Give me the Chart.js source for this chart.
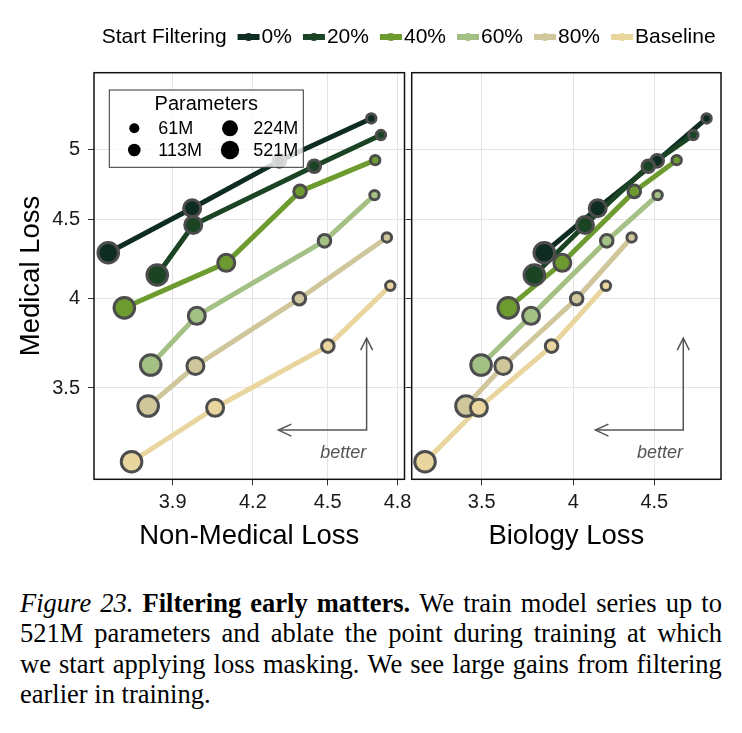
<!DOCTYPE html>
<html><head><meta charset="utf-8">
<script src="https://cdn.jsdelivr.net/npm/chart.js@4.4.1/dist/chart.umd.min.js"></script>
<style>
html,body{margin:0;padding:0;background:#fff;}
#wrap{position:relative;width:742px;height:733px;overflow:hidden;background:#fff;}
canvas{position:absolute;left:0;top:0;}
#cap{position:absolute;left:20px;top:588px;width:702px;font-family:"Liberation Serif","Times New Roman",serif;font-size:26.5px;color:#000;}
.ln{display:flex;justify-content:space-between;height:30.4px;line-height:30.4px;white-space:nowrap;}
.ln2{height:30.4px;line-height:30.4px;white-space:nowrap;}
</style></head>
<body>
<div id="wrap">
<canvas id="left" width="742" height="560"></canvas>
<canvas id="right" width="742" height="560"></canvas>
<div id="cap">
<div class="ln"><i>Figure</i><i>23.</i><b>Filtering</b><b>early</b><b>matters.</b><span>We</span><span>train</span><span>model</span><span>series</span><span>up</span><span>to</span></div>
<div class="ln"><span>521M</span><span>parameters</span><span>and</span><span>ablate</span><span>the</span><span>point</span><span>during</span><span>training</span><span>at</span><span>which</span></div>
<div class="ln"><span>we</span><span>start</span><span>applying</span><span>loss</span><span>masking.</span><span>We</span><span>see</span><span>large</span><span>gains</span><span>from</span><span>filtering</span></div>
<div class="ln2">earlier in training.</div>
</div>
</div>
<script>
// ---- data (model sizes: 61M, 113M, 224M, 521M) ----
const params = ['61M', '113M', '224M', '521M'];
const seriesNames = ['0%', '20%', '40%', '60%', '80%', 'Baseline'];

const medical0 = [5.234, 4.913, 4.577, 4.283];
const medical20 = [5.106, 4.874, 4.464, 4.143];
const medical40 = [4.918, 4.694, 4.219, 3.945];
const medical60 = [4.668, 4.360, 3.898, 3.622];
const medical80 = [4.382, 3.999, 3.617, 3.407];
const medicalBase = [4.077, 3.726, 3.398, 3.135];

const nonMedical0 = [4.685, 4.304, 3.971, 3.675];
const nonMedical20 = [4.727, 4.445, 3.975, 3.845];
const nonMedical40 = [4.702, 4.387, 4.098, 3.730];
const nonMedical60 = [4.699, 4.487, 3.988, 3.822];
const nonMedical80 = [4.753, 4.384, 3.983, 3.813];
const nonMedicalBase = [4.768, 4.501, 4.056, 3.755];

const biology0 = [4.856, 4.519, 4.144, 3.834];
const biology20 = [4.763, 4.461, 4.068, 3.779];
const biology40 = [4.649, 4.371, 3.936, 3.638];
const biology60 = [4.522, 4.199, 3.761, 3.497];
const biology80 = [4.354, 4.019, 3.612, 3.421];
const biologyBase = [4.194, 3.875, 3.486, 3.223];

const yTicksMedical = [3.5, 4, 4.5, 5];
const xTicksNonMedical = [3.9, 4.2, 4.5, 4.8];
const xTicksBiology = [3.5, 4, 4.5];

// ---- styling ----
const FONT = '"Liberation Sans", Arial, Helvetica, sans-serif';
const colors = ['#0e2c22', '#1b4425', '#6e9b2f', '#a4c185', '#cfc79b', '#e9d69e'];
const pointR = [4.7, 6.3, 8.5, 10.3];
const legendR = [5, 6.3, 8, 9.2];

const medical = [medical0, medical20, medical40, medical60, medical80, medicalBase];
const nonMedical = [nonMedical0, nonMedical20, nonMedical40, nonMedical60, nonMedical80, nonMedicalBase];
const biology = [biology0, biology20, biology40, biology60, biology80, biologyBase];

function makeDatasets(xs) {
  const ds = [];
  seriesNames.forEach((name, i) => {
    const pts = xs[i].map((x, j) => ({x: x, y: medical[i][j]}));
    ds.push({label: name, data: pts, showLine: true, borderColor: colors[i], backgroundColor: colors[i],
      borderWidth: 5, pointRadius: 0, borderJoinStyle: 'round', order: 100 + (5 - i), clip: false});
    ds.push({label: name + ' points', data: pts, showLine: false, backgroundColor: colors[i],
      pointBackgroundColor: colors[i], pointBorderColor: '#4d4d4d', pointBorderWidth: 3,
      pointRadius: pointR, order: 5 - i, clip: false});
  });
  return ds;
}

const panelPlugin = {
  id: 'panel',
  afterDatasetsDraw(chart, args, opts) {
    const ctx = chart.ctx, a = chart.chartArea;
    const w = a.right - a.left, h = a.bottom - a.top;
    ctx.save();
    // "better" annotation
    const vx = a.left + 0.878 * w, tipX = a.left + 0.594 * w;
    const topY = a.top + 0.653 * h, cy = a.top + 0.879 * h;
    ctx.strokeStyle = '#555'; ctx.lineWidth = 1.5; ctx.lineJoin = 'miter';
    ctx.beginPath(); ctx.moveTo(vx, topY); ctx.lineTo(vx, cy); ctx.lineTo(tipX, cy); ctx.stroke();
    ctx.beginPath(); ctx.moveTo(vx - 6, topY + 12); ctx.lineTo(vx, topY); ctx.lineTo(vx + 6, topY + 12); ctx.stroke();
    ctx.beginPath(); ctx.moveTo(tipX + 13, cy - 6); ctx.lineTo(tipX, cy); ctx.lineTo(tipX + 13, cy + 6); ctx.stroke();
    ctx.font = 'italic 18px ' + FONT; ctx.fillStyle = '#555';
    ctx.textAlign = 'center'; ctx.textBaseline = 'middle';
    ctx.fillText('better', a.left + 0.803 * w, a.top + 0.936 * h);

    if (opts.paramLegend) {
      const bx = a.left + 15.3, by = a.top + 17.3, bw = 194, bh = 77.3;
      ctx.fillStyle = 'rgba(255,255,255,0.8)'; ctx.fillRect(bx, by, bw, bh);
      ctx.strokeStyle = '#333'; ctx.lineWidth = 1; ctx.strokeRect(bx, by, bw, bh);
      ctx.fillStyle = '#000'; ctx.font = '20px ' + FONT; ctx.textAlign = 'center';
      ctx.fillText('Parameters', bx + bw / 2, by + 14);
      const cols = [[25, 49], [120.7, 144]], rows = [38.3, 60];
      ctx.font = '18px ' + FONT; ctx.textAlign = 'left';
      params.forEach((p, j) => {
        const c = cols[Math.floor(j / 2)], r = rows[j % 2];
        ctx.beginPath(); ctx.arc(bx + c[0], by + r, legendR[j], 0, Math.PI * 2); ctx.fill();
        ctx.fillText(p, bx + c[1], by + r + 1);
      });
    }
    ctx.strokeStyle = '#111'; ctx.lineWidth = 1.5;
    ctx.strokeRect(a.left, a.top, w, h);
    ctx.restore();
  },
  afterDraw(chart, args, opts) {
    if (!opts.topLegend) return;
    const ctx = chart.ctx;
    ctx.save();
    ctx.font = '21px ' + FONT; ctx.fillStyle = '#000';
    ctx.textAlign = 'left'; ctx.textBaseline = 'middle';
    let x = 101.7; const y = 37;
    ctx.fillText('Start Filtering', x, y);
    x += ctx.measureText('Start Filtering').width + 11;
    seriesNames.forEach((name, i) => {
      ctx.strokeStyle = colors[i]; ctx.lineWidth = 6; ctx.lineCap = 'butt';
      ctx.beginPath(); ctx.moveTo(x, y); ctx.lineTo(x + 22, y); ctx.stroke();
      ctx.fillStyle = colors[i];
      ctx.beginPath(); ctx.arc(x + 11, y, 4, 0, Math.PI * 2); ctx.fill();
      x += 24;
      ctx.fillStyle = '#000';
      ctx.fillText(name, x, y);
      x += ctx.measureText(name).width + 11;
    });
    ctx.restore();
  }
};

function makeConfig(cfg) {
  return {
    type: 'scatter',
    data: {datasets: makeDatasets(cfg.xs)},
    plugins: [panelPlugin],
    options: {
      responsive: false, animation: false, events: [],
      layout: {padding: {left: 0, right: cfg.padRight, top: 72.7, bottom: 0}},
      plugins: {
        legend: {display: false}, tooltip: {enabled: false},
        panel: {paramLegend: cfg.paramLegend, topLegend: cfg.topLegend}
      },
      scales: {
        x: {
          type: 'logarithmic', min: cfg.xMin, max: cfg.xMax, bounds: 'data',
          afterBuildTicks: s => { s.ticks = cfg.xTicks.map(v => ({value: v})); },
          afterFit: s => { s.height = 80.7; },
          ticks: {autoSkip: false, maxRotation: 0, minRotation: 0, padding: 5.5, color: '#1a1a1a',
            font: {family: FONT, size: 20}, callback: v => String(v)},
          grid: {color: '#e4e4e4', lineWidth: 1, tickColor: '#333', tickLength: 6, tickWidth: 1},
          border: {display: false},
          title: {display: true, text: cfg.xTitle, color: '#000', font: {family: FONT, size: 27.5},
            padding: {top: 0, bottom: 7.5}}
        },
        y: {
          type: 'logarithmic', min: 3.054, max: 5.604, bounds: 'data',
          afterBuildTicks: s => { s.ticks = yTicksMedical.map(v => ({value: v})); },
          afterFit: s => { s.width = cfg.yWidth; },
          ticks: {display: cfg.showY, autoSkip: false, padding: 8, color: '#1a1a1a',
            font: {family: FONT, size: 20}, callback: v => String(v)},
          grid: {color: '#e4e4e4', lineWidth: 1, tickColor: '#333', tickLength: 6, tickWidth: 1},
          border: {display: false},
          title: {display: cfg.showY, text: 'Medical Loss', color: '#000', font: {family: FONT, size: 27.5},
            padding: {top: 15, bottom: 0}}
        }
      }
    }
  };
}

new Chart(document.getElementById('left'), makeConfig({
  xs: nonMedical, xMin: 3.627, xMax: 4.831, xTicks: xTicksNonMedical, xTitle: 'Non-Medical Loss',
  padRight: 337.5, yWidth: 94, showY: true, paramLegend: true, topLegend: true
}));
new Chart(document.getElementById('right'), makeConfig({
  xs: biology, xMin: 3.161, xMax: 4.959, xTicks: xTicksBiology, xTitle: 'Biology Loss',
  padRight: 21, yWidth: 411.7, showY: false, paramLegend: false, topLegend: false
}));
</script>
</body></html>
